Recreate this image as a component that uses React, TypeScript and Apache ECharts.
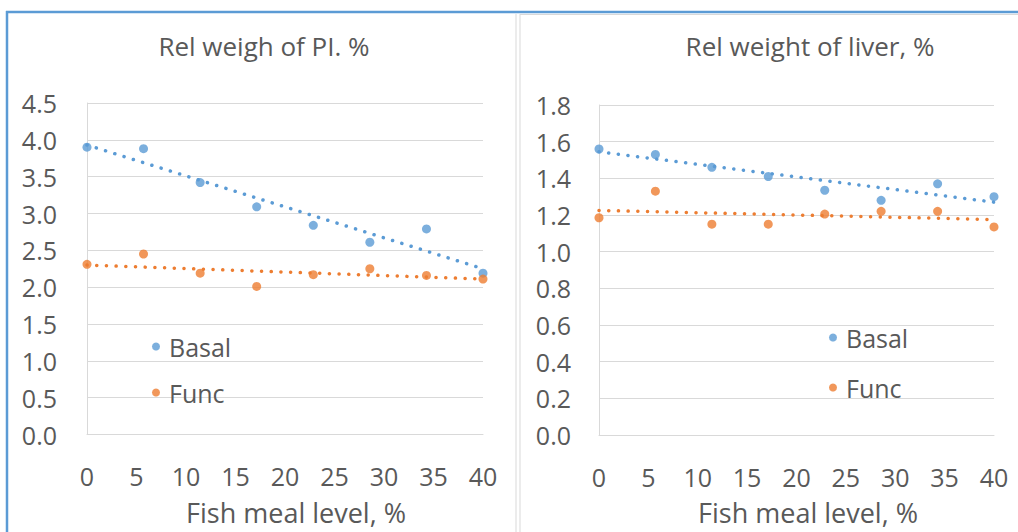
import React, { useEffect, useRef } from "react";
import * as echarts from "echarts";

// ---- data ----
const fishMeal = [0, 5.71, 11.43, 17.14, 22.86, 28.57, 34.29, 40];
const piBasal = [3.9, 3.88, 3.42, 3.09, 2.84, 2.61, 2.79, 2.19];
const piFunc = [2.31, 2.45, 2.19, 2.01, 2.17, 2.25, 2.16, 2.11];
const liverBasal = [1.56, 1.53, 1.46, 1.41, 1.335, 1.28, 1.37, 1.3];
const liverFunc = [1.185, 1.33, 1.15, 1.15, 1.205, 1.22, 1.22, 1.135];
const trendX = [0, 40];
const piBasalTrend = [3.93, 2.25];
const piFuncTrend = [2.3, 2.11];
const liverBasalTrend = [1.545, 1.27];
const liverFuncTrend = [1.225, 1.175];
const seriesNames = ["Basal", "Func"];
const chartTitles = ["Rel weigh of PI. %", "Rel weight of liver, %"];
const xAxisTitle = "Fish meal level, %";

const BLUE = "#5B9BD5";
const ORANGE = "#ED7D31";
const TEXT = "#595959";
const GRID = "#d9d9d9";
const FONT = "'Open Sans', 'Noto Sans', sans-serif";

const pairs = (xs: number[], ys: number[]) => xs.map((x, i) => [x, ys[i]]);

export default function App() {
  const ref = useRef<HTMLDivElement>(null);
  useEffect(() => {
    if (!ref.current) return;
    const chart = echarts.init(ref.current, undefined, { renderer: "svg" });

    const xAxisBase = (gridIndex: number) => ({
      type: "value",
      gridIndex,
      min: 0,
      max: 40,
      interval: 5,
      axisLine: { show: true, lineStyle: { color: GRID, width: 1 } },
      axisTick: { show: false },
      splitLine: { show: false },
      axisLabel: { color: TEXT, fontSize: 25, fontFamily: FONT, margin: 29 },
    });
    const yAxisBase = (gridIndex: number, max: number, interval: number, margin: number) => ({
      type: "value",
      gridIndex,
      min: 0,
      max,
      interval,
      axisLine: { show: true, lineStyle: { color: GRID, width: 1 } },
      axisTick: { show: false },
      splitLine: { show: true, lineStyle: { color: GRID, width: 1 } },
      axisLabel: {
        color: TEXT,
        fontSize: 25,
        fontFamily: FONT,
        margin,
        formatter: (v: number) => v.toFixed(1),
      },
    });

    const scatter = (name: string, data: number[][], color: string, idx: number) => ({
      type: "scatter",
      name,
      xAxisIndex: idx,
      yAxisIndex: idx,
      data,
      symbol: "circle",
      symbolSize: 9,
      itemStyle: { color },
      z: 2,
    });
    const trend = (name: string, data: number[][], color: string, idx: number) => ({
      type: "line",
      name,
      xAxisIndex: idx,
      yAxisIndex: idx,
      data,
      showSymbol: false,
      symbol: "none",
      lineStyle: { color, width: 3.5, type: [0.1, 9.6], cap: "round" },
      z: 3,
      silent: true,
    });

    const legendBase = (left: number, top: number, gap: number) => ({
      orient: "vertical",
      left,
      top,
      itemGap: gap,
      itemWidth: 8,
      itemHeight: 8,
      icon: "circle",
      data: seriesNames,
      textStyle: { color: TEXT, fontSize: 25, fontFamily: FONT, padding: [0, 0, 0, 4] },
    });

    const text = (t: string, x: number, y: number, size: number) => ({
      type: "text",
      x,
      y,
      style: {
        text: t,
        fill: TEXT,
        fontSize: size,
        fontFamily: FONT,
        textAlign: "center",
        textVerticalAlign: "middle",
      },
    });
    const line = (x1: number, y1: number, x2: number, y2: number, color: string, w: number) => ({
      type: "line",
      shape: { x1, y1, x2, y2 },
      style: { stroke: color, lineWidth: w },
    });

    chart.setOption({
      animation: false,
      backgroundColor: "#ffffff",
      grid: [
        { left: 87, top: 103, width: 396, height: 331.5 },
        { left: 599, top: 105, width: 395, height: 330 },
      ],
      xAxis: [xAxisBase(0), xAxisBase(1)],
      yAxis: [yAxisBase(0, 4.5, 0.5, 30), yAxisBase(1, 1.8, 0.2, 28)],
      legend: [legendBase(147, 329, 21), legendBase(824, 320, 25)],
      series: [
        scatter(seriesNames[0], pairs(fishMeal, piBasal), BLUE, 0),
        scatter(seriesNames[1], pairs(fishMeal, piFunc), ORANGE, 0),
        trend("Basal trend PI", pairs(trendX, piBasalTrend), BLUE, 0),
        trend("Func trend PI", pairs(trendX, piFuncTrend), ORANGE, 0),
        scatter(seriesNames[0], pairs(fishMeal, liverBasal), BLUE, 1),
        scatter(seriesNames[1], pairs(fishMeal, liverFunc), ORANGE, 1),
        trend("Basal trend liver", pairs(trendX, liverBasalTrend), BLUE, 1),
        trend("Func trend liver", pairs(trendX, liverFuncTrend), ORANGE, 1),
      ],
      graphic: [
        line(6, 12, 1018, 12, BLUE, 2.5),
        line(7, 11, 7, 532, BLUE, 2.5),
        line(516, 14, 516, 532, GRID, 1),
        line(520, 14, 520, 532, GRID, 1),
        line(520, 14.5, 1018, 14.5, GRID, 1),
        text(chartTitles[0], 264, 46, 26),
        text(chartTitles[1], 810, 46, 26),
        text(xAxisTitle, 296, 512, 27),
        text(xAxisTitle, 808, 512, 27),
      ],
    });
    return () => chart.dispose();
  }, []);
  return (
    <div
      ref={ref}
      style={{ position: "fixed", left: 0, top: 0, width: 1018, height: 532, background: "#fff" }}
    />
  );
}
